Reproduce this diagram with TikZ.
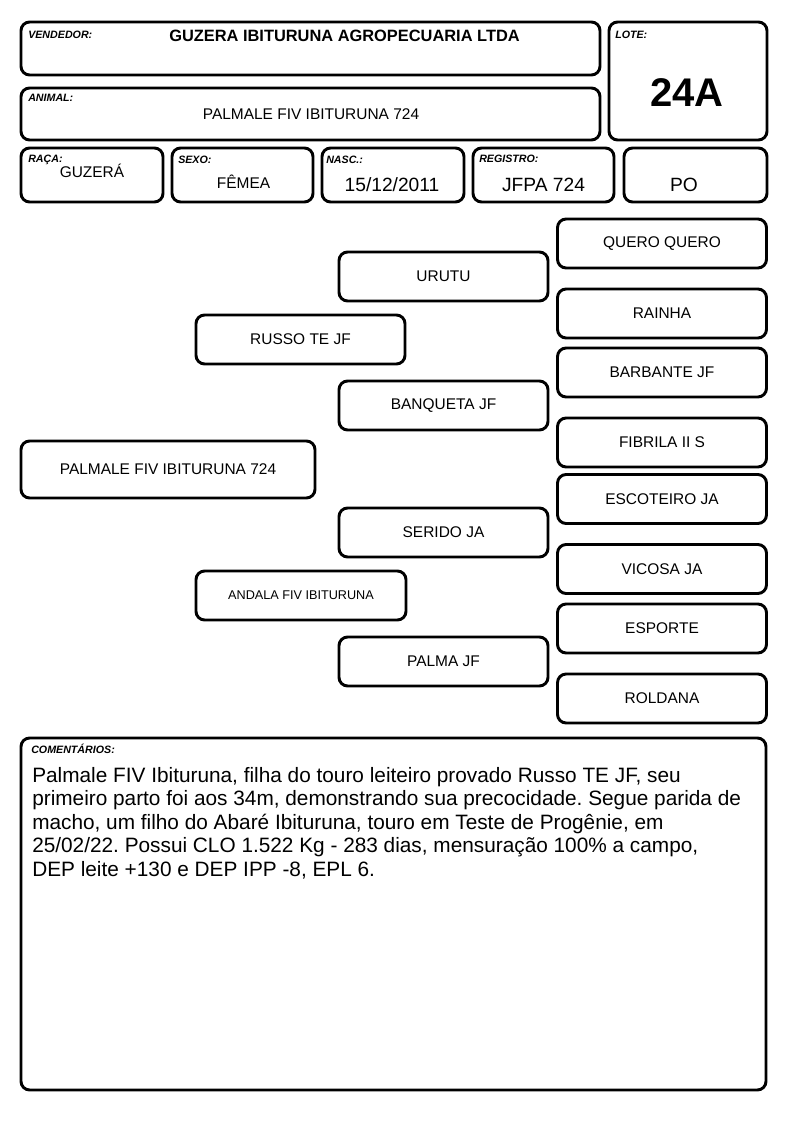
\documentclass[tikz,border=0pt]{standalone}
\usepackage{fontspec}
\setmainfont{Liberation Sans}
\frenchspacing
\newcommand{\formbox}[5]{\node[box, minimum width={(#4-#2)*0.75pt}, minimum height={(#5-#3)*0.75pt}] (#1) at ({(#2+#4)/2},{(#3+#5)/2}) {};}
\tikzset{
  box/.style={draw, line width=2.2pt, rounded corners=6.5pt, inner sep=0pt, outer sep=0pt},
  lbl/.style={anchor=base west, inner sep=0pt, font=\fontsize{8pt}{9pt}\selectfont\bfseries\itshape},
  val/.style={anchor=base, inner sep=0pt, font=\fontsize{11.6pt}{13pt}\selectfont},
  bigval/.style={anchor=base, inner sep=0pt, font=\fontsize{14.4pt}{16pt}\selectfont},
  ped/.style={box, font=\fontsize{11.6pt}{13pt}\selectfont, minimum width={209*0.75pt}, minimum height={49*0.75pt}},
}
\begin{document}
\begin{tikzpicture}[x=0.75pt, y=-0.75pt]
\useasboundingbox (0,0) rectangle (794,1123);
% header boxes
\formbox{vend}{21}{22}{600}{75}
\formbox{lote}{609}{22}{767}{140}
\formbox{animal}{21}{88}{600}{140}
\formbox{raca}{21}{148}{163}{202}
\formbox{sexo}{172}{148}{313}{202}
\formbox{nasc}{322}{148}{464}{202}
\formbox{reg}{473}{148}{614}{202}
\formbox{po}{624}{148}{767}{202}
% header texts
\node[lbl] (lvend) at (28,39) {VENDEDOR:};
\node[anchor=base, inner sep=0pt, font=\fontsize{12.3pt}{14pt}\selectfont\bfseries] (tvend) at (344.5,42) {GUZERA IBITURUNA AGROPECUARIA LTDA};
\node[lbl] (llote) at (615,39) {LOTE:};
\node[anchor=base, inner sep=0pt, font=\fontsize{30pt}{34pt}\selectfont\bfseries] (tlote) at (687,107) {24A};
\node[lbl] (lanimal) at (28,102) {ANIMAL:};
\node[val] (tanimal) at (311,120) {PALMALE FIV IBITURUNA 724};
\node[lbl] (lraca) at (28,163) {RAÇA:};
\node[val] (traca) at (92,178) {GUZERÁ};
\node[lbl] (lsexo) at (178,164) {SEXO:};
\node[val] (tsexo) at (243.5,189) {FÊMEA};
\node[lbl] (lnasc) at (326,164) {NASC.:};
\node[bigval] (tnasc) at (392,192) {15/12/2011};
\node[lbl] (lreg) at (479,163) {REGISTRO:};
\node[bigval] (treg) at (543.5,192) {JFPA 724};
\node[bigval] (tpo) at (684,192) {PO};
% pedigree
\node[ped, minimum width={294*0.75pt}, minimum height={57*0.75pt}] (main) at (168,469.5) {PALMALE FIV IBITURUNA 724};
\node[ped] (russo) at (300.5,339.5) {RUSSO TE JF};
\node[ped, minimum width={210*0.75pt}, font=\fontsize{9.5pt}{11pt}\selectfont] (andala) at (301,595.5) {ANDALA FIV IBITURUNA};
\node[ped] (urutu) at (443.5,276.5) {URUTU};
\node[ped] (banqueta) at (443.5,405.5) {BANQUETA JF};
\node[ped] (serido) at (443.5,532.5) {SERIDO JA};
\node[ped] (palma) at (443.5,661.5) {PALMA JF};
\node[ped] (quero) at (662,243.5) {QUERO QUERO};
\node[ped] (rainha) at (662,313.5) {RAINHA};
\node[ped] (barbante) at (662,372.5) {BARBANTE JF};
\node[ped] (fibrila) at (662,442.5) {FIBRILA II S};
\node[ped] (escoteiro) at (662,499) {ESCOTEIRO JA};
\node[ped] (vicosa) at (662,569) {VICOSA JA};
\node[ped] (esporte) at (662,628.5) {ESPORTE};
\node[ped] (roldana) at (662,698.5) {ROLDANA};
% comments
\formbox{coment}{21}{738}{766}{1090}
\node[lbl] (lcoment) at (31,753) {COMENTÁRIOS:};
\node[anchor=north west, inner sep=0pt, align=left, font=\fontsize{15.6pt}{17.6pt}\selectfont] (tcoment) at (32,767) {Palmale FIV Ibituruna, filha do touro leiteiro provado Russo TE JF, seu\\
primeiro parto foi aos 34m, demonstrando sua precocidade. Segue parida de\\
macho, um filho do Abaré Ibituruna, touro em Teste de Progênie, em\\
25/02/22. Possui CLO 1.522 Kg - 283 dias, mensuração 100\% a campo,\\
DEP leite +130 e DEP IPP -8, EPL 6.};
\end{tikzpicture}
\end{document}
